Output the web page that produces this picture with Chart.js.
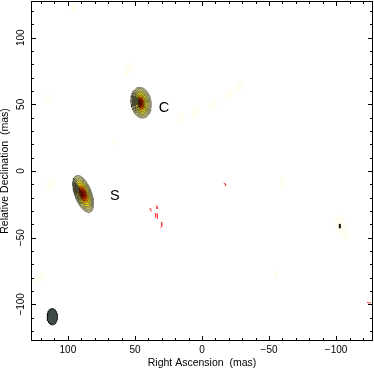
<!DOCTYPE html>
<html>
<head>
<meta charset="utf-8">
<script src="https://cdn.jsdelivr.net/npm/chart.js@4.4.1/dist/chart.umd.min.js"></script>
<style>
  html, body { margin: 0; padding: 0; background: #fff; }
  #wrap { width: 374px; height: 368px; }
</style>
</head>
<body>
<div id="wrap"><canvas id="map" width="374" height="368"></canvas></div>
<script>
// components (mas): C and S
const compNames = ['C', 'S'];
const compRA = [45.4, 88.6];
const compDec = [51.2, -17.2];
const compMajor = [11.6, 14.6];
const compMinor = [7.5, 6.3];
const compPA = [8, 20];
const compMinorExp = [1.4, 1.0];
const labelRA = [28.4, 64.9];
const labelDec = [47.5, -18.7];

// restoring beam
const beamRA = 111.6;
const beamDec = -109.3;
const beamMajor = 6.1;
const beamMinor = 3.8;

// faint low level emission
const faintRA = [55, 16, 5, -8, -20, -28, 113, 115, -104, 121, -60, -55, 66, 96];
const faintDec = [76, 40, 44, 50, 57, 64, -10, 55, -42, -80, -9, -77, 21, 122];
const faintMajor = [5, 5, 5, 5, 5, 5, 5, 3, 10, 5, 5, 4, 2, 3];
const faintMinor = [3, 2.5, 2.5, 2.5, 2.5, 2.5, 3, 2, 4, 2.5, 2, 1.5, 1.5, 2];
const faintPA = [-30, -30, -30, -30, -30, -30, -20, 0, 20, -40, 10, 20, 0, 0];

// small positive spot near (-103,-41)
const spotRA = -102.8;
const spotDec = -41.3;

// negative contours (red)
const negContours = [
  [[39.3, -28.5], [38.2, -28.2], [37.9, -30.5]],
  [[34.2, -25.8], [33.4, -26.5], [33.5, -28.5]],
  [[34.8, -31.5], [34.6, -34.8]],
  [[33.4, -32.0], [33.2, -35.8]],
  [[30.2, -38.3], [30.0, -41.5], [31.0, -42.6]],
  [[-16.2, -9.2], [-17.3, -9.6], [-17.6, -11.1]],
  [[-123.0, -98.5], [-124.5, -99.0], [-126.0, -98.8]]
];

const xTickValues = [100, 50, 0, -50, -100];
const yTickValues = [100, 50, 0, -50, -100];

// contour rings, outermost first
const levelScale = [1, 0.92, 0.84, 0.76, 0.68, 0.58, 0.48, 0.38, 0.28, 0.16];
const levelFill = ['#d8d69a', '#e6e49c', '#eeea88', '#f4ee60', '#f8ec20', '#ffe000', '#ffb000', '#f07000', '#d82000', '#800000'];

const FONT = '"Liberation Sans", Arial, sans-serif';

function fmt(v){
    return v < 0 ? '\u2212' + Math.abs(v) : String(v);
}

// outline of an elliptical contour, PA east of north
function ellipse(ra, dec, a, b, paDeg){
    const pa = paDeg * Math.PI / 180;
    const pts = [];
    for(let i=0;i<=64;i++){
        const t = i / 64 * 2 * Math.PI;
        const u = a * Math.cos(t), v = b * Math.sin(t);
        pts.push({ x: ra + u*Math.sin(pa) + v*Math.cos(pa), y: dec + u*Math.cos(pa) - v*Math.sin(pa) });
    }
    return pts;
}

function shape(data, fillColor, lineColor, lineWidth, order){
    return { data, showLine: true, fill: 'shape', backgroundColor: fillColor,
        borderColor: lineColor, borderWidth: lineWidth, pointRadius: 0, tension: 0, order };
}

const datasets = [];

faintRA.forEach((ra, i) => {
    datasets.push(shape(ellipse(ra, faintDec[i], faintMajor[i], faintMinor[i], faintPA[i]), '#fffef0', 'rgba(0,0,0,0)', 0, 1000));
});

compNames.forEach((n, c) => {
    levelScale.forEach((s, k) => {
        const a = compMajor[c] * s;
        const b = compMinor[c] * Math.pow(s, compMinorExp[c]);
        const line = k < 7 ? '#3c3c30' : '#3a1000';
        datasets.push(shape(ellipse(compRA[c], compDec[c], a, b, compPA[c]), levelFill[k], line, 0.6, 500 - k));
    });
});

datasets.push(shape(ellipse(spotRA, spotDec, 1.5, 0.6, 0), '#222', '#111', 0.8, 10));
datasets.push(shape(ellipse(beamRA, beamDec, beamMajor, beamMinor, 0), '#3d4b49', '#111', 1, 10));

negContours.forEach(seg => {
    datasets.push({ data: seg.map(p => ({ x: p[0], y: p[1] })), showLine: true, fill: false,
        borderColor: '#ff3c3c', borderWidth: 1, pointRadius: 0, tension: 0, order: 5 });
});

const frameTicks = {
    id: 'frameTicks',
    afterDraw(chart){
        const { ctx, chartArea: a, scales: { x, y } } = chart;
        ctx.save();
        ctx.strokeStyle = '#000';
        ctx.lineWidth = 1;
        ctx.beginPath();
        for(let v=-120; v<=120; v+=10){
            const len = v % 50 === 0 ? 5 : 3;
            const px = Math.round(x.getPixelForValue(v)) + 0.5;
            ctx.moveTo(px, a.bottom); ctx.lineTo(px, a.bottom - len);
            ctx.moveTo(px, a.top); ctx.lineTo(px, a.top + len);
            const py = Math.round(y.getPixelForValue(v)) + 0.5;
            ctx.moveTo(a.left, py); ctx.lineTo(a.left + len, py);
            ctx.moveTo(a.right, py); ctx.lineTo(a.right - len, py);
        }
        ctx.stroke();
        ctx.strokeRect(Math.round(a.left) + 0.5, Math.round(a.top) + 0.5,
            Math.round(a.right - a.left) - 1, Math.round(a.bottom - a.top) - 1);

        // tick labels
        ctx.fillStyle = '#000';
        ctx.font = '10px ' + FONT;
        ctx.textAlign = 'center';
        ctx.textBaseline = 'middle';
        xTickValues.forEach(v => {
            ctx.fillText(fmt(v), x.getPixelForValue(v), a.bottom + 9.5);
        });
        yTickValues.forEach(v => {
            ctx.save();
            ctx.translate(21, y.getPixelForValue(v));
            ctx.rotate(-Math.PI / 2);
            ctx.fillText(fmt(v), 0, 0);
            ctx.restore();
        });

        // component names
        ctx.font = '14.5px ' + FONT;
        compNames.forEach((n, i) => {
            ctx.fillText(n, x.getPixelForValue(labelRA[i]), y.getPixelForValue(labelDec[i]));
        });
        ctx.restore();
    }
};

new Chart(document.getElementById('map'), {
    type: 'scatter',
    data: { datasets },
    options: {
        responsive: false,
        animation: false,
        devicePixelRatio: 1,
        layout: { padding: { top: 1, right: 1 } },
        plugins: { legend: { display: false }, tooltip: { enabled: false } },
        scales: {
            x: {
                type: 'linear', reverse: true, min: -127.5, max: 127.5,
                grid: { display: false }, border: { display: false },
                ticks: { display: false },
                title: { display: true, text: 'Right Ascension  (mas)', color: '#000',
                    font: { family: FONT, size: 10.5, lineHeight: 1 }, padding: 0 },
                afterFit: s => { s.height = 27; }
            },
            y: {
                type: 'linear', min: -127.5, max: 127.5,
                grid: { display: false }, border: { display: false },
                ticks: { display: false },
                title: { display: true, text: 'Relative Declination  (mas)', color: '#000',
                    font: { family: FONT, size: 10.5, lineHeight: 1 }, padding: 0 },
                afterFit: s => { s.width = 31; }
            }
        }
    },
    plugins: [frameTicks]
});
</script>
</body>
</html>
